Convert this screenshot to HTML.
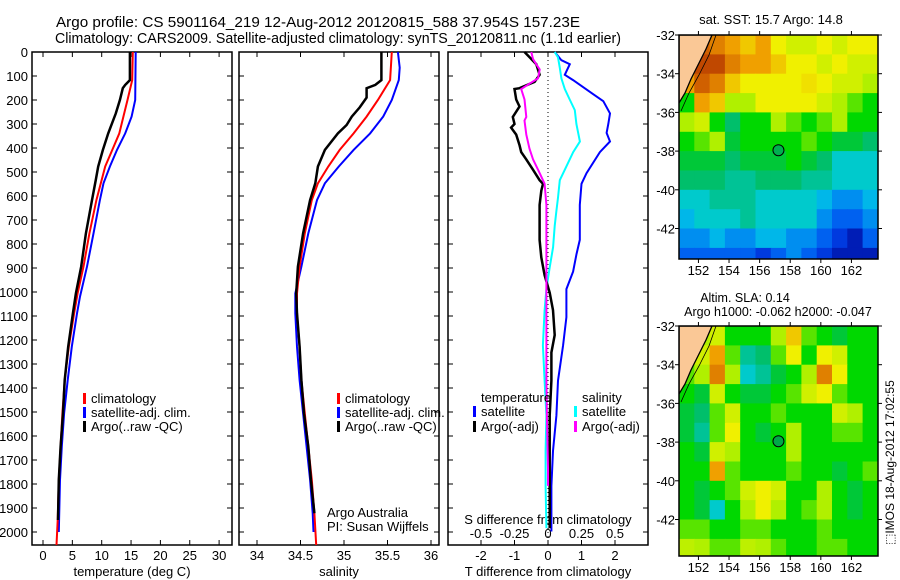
<!DOCTYPE html>
<html><head><meta charset="utf-8">
<style>
html,body{margin:0;padding:0;background:#fff;}
svg{display:block;font-family:"Liberation Sans",sans-serif;}
text{fill:#000;}
</style></head>
<body>
<svg id="fig" width="900" height="580" viewBox="0 0 900 580" xmlns="http://www.w3.org/2000/svg">
<text x="56" y="27" font-size="15" textLength="524" lengthAdjust="spacingAndGlyphs">Argo profile: CS 5901164_219 12-Aug-2012 20120815_588 37.954S 157.23E</text>
<text x="55" y="43" font-size="15" textLength="566" lengthAdjust="spacingAndGlyphs">Climatology: CARS2009. Satellite-adjusted climatology: synTS_20120811.nc (1.1d earlier)</text>
<g id="layer"></g>
</svg>
<script>
// ---------- Data ----------
const tDepthBlack = [0,117,137,151,200,256,339,408,477,533,617,756,894,1006,1089,1228,1367,1506,1644,1783,1950];
const tValBlack   = [14.8,14.8,14.0,13.6,13.1,12.4,11.1,10.2,9.4,9.0,8.35,7.3,6.5,5.6,5.1,4.3,3.7,3.4,3.0,2.7,2.55];
const tDepthRed = [0,117,200,269,339,408,477,617,756,894,1006,1089,1228,1367,1506,1644,1783,1950,2054];
const tValRed   = [15.3,15.2,14.4,13.7,13.0,11.8,10.6,9.1,7.9,6.9,5.9,5.3,4.4,3.7,3.3,3.0,2.7,2.5,2.3];
const tDepthBlue = [0,200,269,339,408,477,547,617,756,894,1019,1089,1228,1367,1506,1644,1783,2000];
const tValBlue   = [15.8,15.7,15.1,14.0,12.6,11.4,10.3,9.7,8.6,7.5,6.3,5.8,4.9,4.2,3.6,3.2,2.9,2.7];
const sDepthBlack = [0,117,137,151,190,231,269,304,339,408,477,547,617,756,894,1006,1089,1228,1367,1506,1644,1783,1922];
const sValBlack   = [35.43,35.43,35.36,35.26,35.26,35.18,35.09,35.03,34.93,34.78,34.70,34.67,34.61,34.53,34.47,34.45,34.46,34.49,34.51,34.54,34.59,34.62,34.66];
const sDepthRed = [0,117,200,269,339,408,477,547,617,756,894,1006,1089,1228,1367,1506,1644,1783,1922,2054];
const sValRed   = [35.55,35.53,35.39,35.26,35.11,34.95,34.82,34.70,34.63,34.55,34.49,34.46,34.46,34.49,34.51,34.55,34.59,34.63,34.66,34.68];
const sDepthBlue = [0,65,117,200,269,339,408,477,547,617,756,894,1006,1089,1228,1367,1506,1644,1783,1922,2000];
const sValBlue   = [35.62,35.64,35.63,35.55,35.45,35.30,35.11,34.94,34.78,34.69,34.59,34.51,34.44,34.44,34.46,34.49,34.53,34.57,34.61,34.64,34.65];
const dDepthTsat = [0,34,51,95,117,176,205,256,300,337,373,417,505,549,637,783,842,915,988,1105,1222,1369,1515,1662,1808,1998];
const dValTsat   = [0.2,0.4,0.65,0.5,0.75,1.35,1.65,1.85,1.8,1.75,1.85,1.55,1.15,1.0,0.95,0.95,0.85,0.75,0.55,0.55,0.45,0.3,0.25,0.15,0.1,0.1];
const dDepthTargo = [0,22,51,95,124,151,154,198,227,271,300,315,344,388,417,447,490,534,549,578,637,783,856,930,1003,1076,1179,1252,1369,1515,1662,1808,1984];
const dValTargo   = [-0.7,-0.55,-0.35,-0.25,-0.4,-0.85,-1.0,-0.95,-0.85,-1.05,-1.0,-1.1,-0.95,-0.85,-0.8,-0.65,-0.45,-0.25,-0.15,-0.2,-0.25,-0.25,-0.2,-0.1,0.05,0.15,0.2,0.1,0.1,0.05,0.05,0.05,0.05];
const dDepthSargo = [0,29,51,73,110,132,154,198,271,286,344,403,447,505,549,637,783,930,1369,1515,1735,1808];
const dValSargo   = [-0.125,-0.112,-0.088,-0.062,-0.075,-0.138,-0.2,-0.175,-0.162,-0.175,-0.162,-0.138,-0.112,-0.062,-0.025,-0.012,-0.012,-0.012,-0.012,-0.008,0,0];
const dDepthSsat = [0,22,66,110,154,198,242,300,373,417,476,534,607,666,725,813,900,988,1076,1222,1369,1515,1662,1808,1984];
const dValSsat   = [0.05,0.075,0.088,0.1,0.125,0.162,0.2,0.212,0.238,0.188,0.138,0.088,0.075,0.062,0.05,0.038,0.012,-0.012,-0.025,-0.038,-0.025,-0.012,-0.018,-0.018,-0.012];
const depthTicks = [0,100,200,300,400,500,600,700,800,900,1000,1100,1200,1300,1400,1500,1600,1700,1800,1900,2000];
const tempTicks = [0,5,10,15,20,25,30];
const salTicks = [34,34.5,35,35.5,36];
const salTickLabels = ["34","34.5","35","35.5","36"];
const tdiffTicks = [-2,-1,0,1,2];
const sdiffTicks = [-0.5,-0.25,0,0.25,0.5];
const sdiffTickLabels = ["-0.5","-0.25","0","0.25","0.5"];
const latTicks = [-32,-34,-36,-38,-40,-42];
const lonTicks = [152,154,156,158,160,162];
const sstGrid = [
[0.9,0.9,0.85,0.8,0.75,0.8,0.7,0.65,0.65,0.7,0.65,0.7,0.7],
[0.85,0.95,0.95,0.85,0.8,0.8,0.75,0.7,0.7,0.65,0.7,0.65,0.65],
[0.8,0.9,0.85,0.75,0.7,0.7,0.7,0.7,0.72,0.7,0.65,0.65,0.6],
[0.5,0.8,0.75,0.6,0.6,0.7,0.7,0.7,0.7,0.65,0.6,0.55,0.5],
[0.6,0.65,0.5,0.4,0.5,0.5,0.6,0.55,0.5,0.55,0.6,0.5,0.5],
[0.5,0.55,0.6,0.45,0.5,0.5,0.5,0.5,0.55,0.5,0.45,0.45,0.4],
[0.45,0.45,0.45,0.4,0.45,0.45,0.45,0.5,0.45,0.4,0.3,0.3,0.3],
[0.4,0.4,0.4,0.35,0.35,0.4,0.4,0.4,0.35,0.35,0.3,0.3,0.3],
[0.3,0.3,0.35,0.35,0.35,0.3,0.3,0.3,0.3,0.25,0.2,0.2,0.25],
[0.25,0.3,0.3,0.3,0.35,0.3,0.3,0.3,0.3,0.2,0.15,0.15,0.2],
[0.2,0.2,0.25,0.2,0.2,0.25,0.25,0.2,0.2,0.15,0.1,0.05,0.15],
[0.15,0.15,0.15,0.15,0.15,0.1,0.15,0.2,0.15,0.1,0.05,0.05,0.05]];
const slaGrid = [
[0.6,0.6,0.65,0.5,0.5,0.5,0.6,0.75,0.55,0.5,0.45,0.5,0.5],
[0.55,0.65,0.8,0.55,0.35,0.4,0.55,0.7,0.5,0.7,0.65,0.5,0.5],
[0.55,0.6,0.85,0.6,0.3,0.35,0.45,0.5,0.6,0.85,0.7,0.5,0.5],
[0.5,0.45,0.65,0.5,0.45,0.45,0.5,0.55,0.65,0.7,0.55,0.5,0.5],
[0.45,0.4,0.55,0.65,0.5,0.5,0.55,0.5,0.5,0.5,0.65,0.6,0.5],
[0.45,0.35,0.55,0.7,0.5,0.45,0.5,0.6,0.5,0.5,0.55,0.55,0.5],
[0.5,0.45,0.65,0.6,0.5,0.5,0.5,0.6,0.5,0.5,0.5,0.5,0.5],
[0.5,0.5,0.8,0.55,0.5,0.5,0.5,0.55,0.5,0.5,0.45,0.5,0.55],
[0.5,0.45,0.5,0.55,0.65,0.7,0.65,0.5,0.5,0.6,0.5,0.45,0.5],
[0.5,0.45,0.3,0.5,0.6,0.7,0.6,0.5,0.55,0.6,0.5,0.45,0.5],
[0.55,0.55,0.5,0.5,0.55,0.55,0.5,0.5,0.5,0.55,0.5,0.5,0.5],
[0.62,0.6,0.55,0.55,0.62,0.6,0.55,0.5,0.5,0.55,0.55,0.5,0.5]];
const argoLon = [157.23];
const argoLat = [-37.954];

// ---------- Drawing ----------
const NS = "http://www.w3.org/2000/svg";
const layer = document.getElementById('layer');
function mk(tag, attrs, parent){
  const e = document.createElementNS(NS, tag);
  for (const k in attrs) e.setAttribute(k, attrs[k]);
  (parent||layer).appendChild(e);
  return e;
}
const TOP = 52, BOT = 545;
const yDepth = d => TOP + d * 0.24;
const xTemp = t => 43 + t * 5.87;
const xSal = s => 257 + (s - 34) * 87;
const xTd = t => 548 + t * 33.5;
const xSd = s => 548 + s * 134;

function line(xs, ys, color, w, name){
  const pts = xs.map((x,i)=>x.toFixed(1)+','+ys[i].toFixed(1)).join(' ');
  const p = mk('polyline',{points:pts,fill:'none',stroke:color,'stroke-width':w,'stroke-linejoin':'miter'});
  
  
}
function frame(x0,x1,name){
  const r = mk('rect',{x:x0,y:TOP,width:x1-x0,height:BOT-TOP,fill:'none',stroke:'#000','stroke-width':1.5});
  
  
  depthTicks.forEach(d=>{
    mk('line',{x1:x0,x2:x0+5,y1:yDepth(d),y2:yDepth(d),stroke:'#000'});
    mk('line',{x1:x1-5,x2:x1,y1:yDepth(d),y2:yDepth(d),stroke:'#000'});
  });
}
function xticks(vals, fx, labels, y, name){
  vals.forEach((v,i)=>{
    const x = fx(v);
    mk('line',{x1:x,x2:x,y1:TOP,y2:TOP+5,stroke:'#000'});
    mk('line',{x1:x,x2:x,y1:BOT-5,y2:BOT,stroke:'#000'});
    const t = mk('text',{x:x,y:y,'font-size':13,'text-anchor':'middle'});
    t.textContent = labels ? labels[i] : String(v);
    
    
  });
}
function txt(x,y,s,name,opts){
  const t = mk('text',Object.assign({x:x,y:y,'font-size':13},opts||{}));
  t.textContent = s;
  
  
  return t;
}
function legend(x,y,color,label,name){
  const r = mk('rect',{x:x,y:y-10,width:3,height:11,fill:color});
  
  
  txt(x+8,y,label,name);
}

frame(32,232,'temperature-panel-frame');
depthTicks.forEach(d=>txt(28,yDepth(d)+5,String(d),'depth-tick-label',{'text-anchor':'end'}));
xticks(tempTicks, xTemp, null, 560, 'temperature-tick-label');
txt(132,576,'temperature (deg C)','temperature-axis-title',{'text-anchor':'middle'});
line(tDepthBlue.map((d,i)=>xTemp(tValBlue[i])), tDepthBlue.map(yDepth), '#0000ff', 2, 'temp-satellite-adj-line');
line(tDepthRed.map((d,i)=>xTemp(tValRed[i])), tDepthRed.map(yDepth), '#ff0000', 2, 'temp-climatology-line');
line(tDepthBlack.map((d,i)=>xTemp(tValBlack[i])), tDepthBlack.map(yDepth), '#000000', 2.5, 'temp-argo-line');
legend(83,403,'#ff0000','climatology','temp-legend-climatology');
legend(83,417,'#0000ff','satellite-adj. clim.','temp-legend-satellite');
legend(83,431,'#000000','Argo(..raw -QC)','temp-legend-argo');

frame(239,439,'salinity-panel-frame');
xticks(salTicks, xSal, salTickLabels, 560, 'salinity-tick-label');
txt(339,576,'salinity','salinity-axis-title',{'text-anchor':'middle'});
line(sDepthBlue.map((d,i)=>xSal(sValBlue[i])), sDepthBlue.map(yDepth), '#0000ff', 2, 'sal-satellite-adj-line');
line(sDepthRed.map((d,i)=>xSal(sValRed[i])), sDepthRed.map(yDepth), '#ff0000', 2, 'sal-climatology-line');
line(sDepthBlack.map((d,i)=>xSal(sValBlack[i])), sDepthBlack.map(yDepth), '#000000', 2.5, 'sal-argo-line');
legend(337,403,'#ff0000','climatology','sal-legend-climatology');
legend(337,417,'#0000ff','satellite-adj. clim.','sal-legend-satellite');
legend(337,431,'#000000','Argo(..raw -QC)','sal-legend-argo');
txt(327,517,'Argo Australia','credit-argo-australia');
txt(327,531,'PI: Susan Wijffels','credit-pi');

frame(448,648,'difference-panel-frame');
const zl = mk('line',{x1:xTd(0),x2:xTd(0),y1:TOP,y2:BOT,stroke:'#000','stroke-dasharray':'1,3'});


xticks(tdiffTicks, xTd, null, 560, 'tdiff-tick-label');
sdiffTicks.forEach((v,i)=>txt(xSd(v),538,sdiffTickLabels[i],'sdiff-tick-label',{'text-anchor':'middle'}));
txt(548,524,'S difference from climatology','sdiff-axis-title',{'text-anchor':'middle'});
txt(548,576,'T difference from climatology','tdiff-axis-title',{'text-anchor':'middle'});
line(dDepthTsat.map((d,i)=>xTd(dValTsat[i])), dDepthTsat.map(yDepth), '#0000ff', 2, 'tdiff-satellite-line');
line(dDepthSsat.map((d,i)=>xSd(dValSsat[i])), dDepthSsat.map(yDepth), '#00ffff', 2, 'sdiff-satellite-line');
line(dDepthTargo.map((d,i)=>xTd(dValTargo[i])), dDepthTargo.map(yDepth), '#000000', 2.5, 'tdiff-argo-line');
line(dDepthSargo.map((d,i)=>xSd(dValSargo[i])), dDepthSargo.map(yDepth), '#ff00ff', 2, 'sdiff-argo-line');
txt(481,402,'temperature','diff-legend-temperature-heading');
legend(473,416,'#0000ff','satellite','diff-legend-t-satellite');
legend(473,431,'#000000','Argo(-adj)','diff-legend-t-argo');
txt(582,402,'salinity','diff-legend-salinity-heading');
legend(574,416,'#00ffff','satellite','diff-legend-s-satellite');
legend(574,431,'#ff00ff','Argo(-adj)','diff-legend-s-argo');

const cstops = [[0,[0,0,140]],[0.12,[0,70,240]],[0.22,[0,160,240]],[0.28,[0,205,225]],[0.35,[0,195,150]],[0.42,[0,190,90]],[0.5,[0,216,0]],[0.6,[176,240,0]],[0.7,[240,240,0]],[0.8,[240,160,0]],[0.9,[208,96,0]],[1,[176,48,0]]];
function cmap(v){
  for (let i=1;i<cstops.length;i++){
    if (v<=cstops[i][0]){
      const a=cstops[i-1], b=cstops[i], f=(v-a[0])/(b[0]-a[0]);
      const c=a[1].map((q,k)=>Math.round(q+(b[1][k]-q)*f));
      return 'rgb('+c.join(',')+')';
    }
  }
  return 'rgb(176,48,0)';
}
function drawMap(y0, y1, grid, name, circleFill){
  const X0=679, X1=878, LON0=150.73, PXLON=15.3, PXLAT=19.35;
  const xLon = l => X0 + (l-LON0)*PXLON;
  const yLat = la => y0 + (-32-la)*PXLAT;
  const g = mk('g',{});
  
  
  const clipId = name+'-clip';
  const cp = mk('clipPath',{id:clipId}, g);
  mk('rect',{x:X0,y:y0,width:X1-X0,height:y1-y0},cp);
  const cells = mk('g',{'clip-path':'url(#'+clipId+')'},g);
  grid.forEach((row,r)=>row.forEach((v,c)=>{
    const rc = mk('rect',{x:xLon(LON0+c).toFixed(1),y:yLat(-32-r).toFixed(1),width:PXLON+0.6,height:PXLAT+0.6,fill:cmap(v)},cells);
    
    
  }));
  const land = mk('polygon',{points:`${X0},${y0} ${X0+33},${y0} ${X0+27},${y0+14} ${X0+19},${y0+30} ${X0+12},${y0+44} ${X0+6},${y0+58} ${X0},${y0+68}`,fill:'#fac896',stroke:'#000','stroke-width':1.3},cells);
  
  
  mk('polyline',{points:`${X0+37},${y0} ${X0+30},${y0+20} ${X0+20},${y0+40} ${X0+10},${y0+58} ${X0+2},${y0+76}`,fill:'none',stroke:'#000','stroke-width':0.8},cells);
  mk('rect',{x:X0,y:y0,width:X1-X0,height:y1-y0,fill:'none',stroke:'#000','stroke-width':1.5},g);
  latTicks.forEach(la=>{
    const y=yLat(la);
    mk('line',{x1:X0-4,x2:X0,y1:y,y2:y,stroke:'#000'},g);
    mk('line',{x1:X1,x2:X1+4,y1:y,y2:y,stroke:'#000'},g);
    txt(675,y+5,String(la),name+'-lat-label',{'text-anchor':'end'});
  });
  lonTicks.forEach(lo=>{
    const x=xLon(lo);
    mk('line',{x1:x,x2:x,y1:y0-4,y2:y0,stroke:'#000'},g);
    mk('line',{x1:x,x2:x,y1:y1,y2:y1+4,stroke:'#000'},g);
    txt(x,y1+16,String(lo),name+'-lon-label',{'text-anchor':'middle'});
  });
  argoLon.forEach((lo,i)=>{
    const c = mk('circle',{cx:xLon(lo),cy:yLat(argoLat[i]),r:5.5,fill:circleFill,stroke:'#000','stroke-width':1},g);
    
    
  });
}
drawMap(35,259,sstGrid,'sst-map','#00b050');
drawMap(326,556,slaGrid,'sla-map','#00a848');
txt(771,24,'sat. SST: 15.7 Argo: 14.8','sst-map-title',{'text-anchor':'middle','font-size':13});
txt(745,302,'Altim. SLA: 0.14','sla-map-title',{'text-anchor':'middle','font-size':12.5});
txt(778,316,'Argo h1000: -0.062 h2000: -0.047','sla-map-subtitle',{'text-anchor':'middle','font-size':12.5});
txt(0,0,'\u2b1aIMOS 18-Aug-2012 17:02:55','imos-timestamp',{'font-size':12,'transform':'translate(894,545) rotate(-90)'});
</script>
</body></html>
